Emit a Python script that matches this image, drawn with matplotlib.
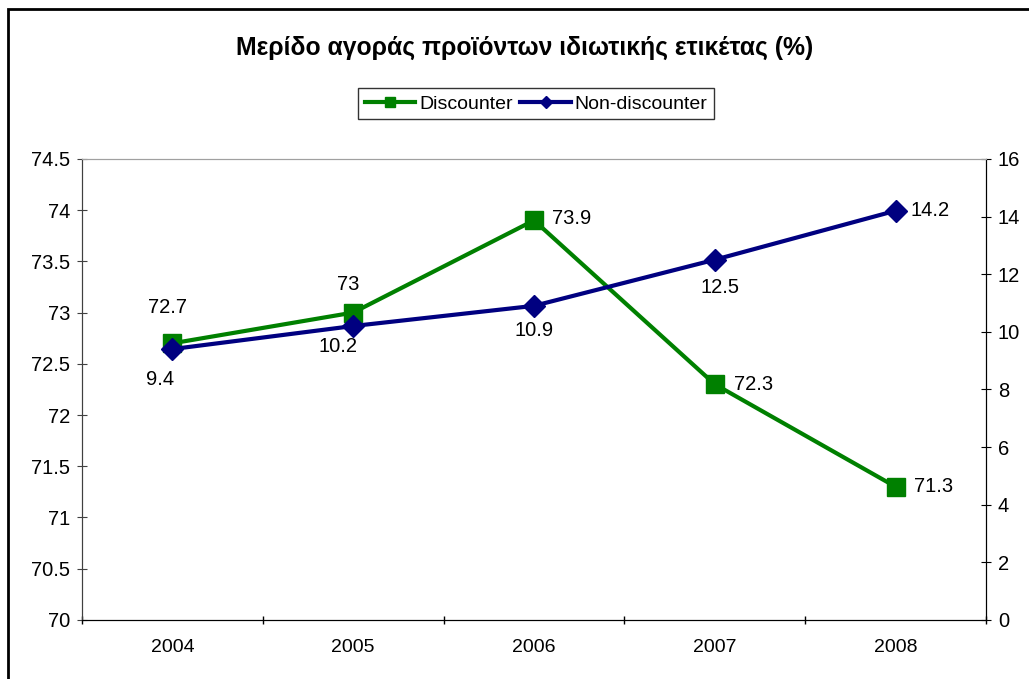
import matplotlib.pyplot as plt
from matplotlib.patches import Rectangle

years = ['2004', '2005', '2006', '2007', '2008']
discounter = [72.7, 73.0, 73.9, 72.3, 71.3]
non_discounter = [9.4, 10.2, 10.9, 12.5, 14.2]
disc_labels = ['72.7', '73', '73.9', '72.3', '71.3']
non_labels = ['9.4', '10.2', '10.9', '12.5', '14.2']

plt.rcParams['font.family'] = ['Liberation Sans', 'DejaVu Sans']

green = '#008000'
navy = '#000080'
fs = 14.5

fig = plt.figure(figsize=(10.29, 6.79), dpi=100)
ax = fig.add_axes([0.0797, 0.087, 0.8785, 0.679])
ax2 = ax.twinx()

x = list(range(len(years)))

l1, = ax.plot(x, discounter, color=green, lw=3, marker='s', ms=13,
              label='Discounter', zorder=3)
l2, = ax2.plot(x, non_discounter, color=navy, lw=3, marker='D', ms=11,
               label='Non-discounter', zorder=3)

# data labels (offsets in points)
disc_off = [(-3.5, 26), (-3.5, 20), (27, 1), (28, 0), (27, 0)]
for i, (v, t) in enumerate(zip(discounter, disc_labels)):
    dx, dy = disc_off[i]
    ax.annotate(t, (x[i], v), xytext=(dx, dy), textcoords='offset points',
                ha='center', va='center', fontsize=fs)
non_off = [(-9, -22), (-11, -15), (0, -18), (3.5, -20), (25, 0)]
for i, (v, t) in enumerate(zip(non_discounter, non_labels)):
    dx, dy = non_off[i]
    ax2.annotate(t, (x[i], v), xytext=(dx, dy), textcoords='offset points',
                 ha='center', va='center', fontsize=fs)

ax.set_xlim(-0.5, 4.5)
ax.set_ylim(70, 74.5)
ax.set_yticks([70 + 0.5 * k for k in range(10)])
ax.set_yticklabels(['70', '70.5', '71', '71.5', '72', '72.5', '73', '73.5', '74', '74.5'])
ax2.set_ylim(0, 16)
ax2.set_yticks(range(0, 17, 2))

ax.set_xticks(x)
ax.set_xticklabels(years)
ax.set_xticks([k - 0.5 for k in range(6)], minor=True)
ax.tick_params(axis='x', which='major', length=0, pad=14, labelsize=14)
ax.tick_params(axis='x', which='minor', length=6, direction='inout', width=1)
ax.tick_params(axis='y', length=7, direction='inout', labelsize=fs, pad=5, color='#404040')
ax2.tick_params(axis='y', length=7, direction='inout', labelsize=fs, pad=5)

for a in (ax, ax2):
    a.spines['top'].set_color('#a0a0a0')
    a.spines['left'].set_color('#404040')
    a.spines['bottom'].set_color('black')
    a.spines['right'].set_color('black')

fig.text(0.51, 0.93, 'Μερίδο αγοράς προϊόντων ιδιωτικής ετικέτας (%)',
         ha='center', va='center', fontsize=17.8, fontweight='bold')

leg = fig.legend(handles=[l1, l2], loc='center', bbox_to_anchor=(0.521, 0.847),
                 ncol=2, frameon=True, fancybox=False, edgecolor='black',
                 fontsize=14, handlelength=2.6, handletextpad=0.2,
                 columnspacing=0.4, borderpad=0.35, markerscale=0.6)
leg.get_frame().set_linewidth(1)

fig.patches.append(Rectangle((0.008, -0.05), 1.05, 1.037, transform=fig.transFigure,
                             fill=False, edgecolor='black', lw=2))

fig.savefig('out.png', dpi=100)
